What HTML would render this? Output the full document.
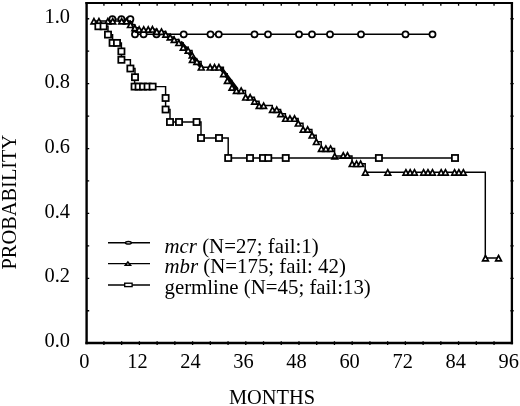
<!DOCTYPE html>
<html><head><meta charset="utf-8"><title>Kaplan-Meier</title>
<style>html,body{margin:0;padding:0;background:#fff}svg{display:block}text{font-family:"Liberation Serif",serif;fill:#000}</style></head><body>
<svg width="520" height="406" viewBox="0 0 520 406">
<rect width="520" height="406" fill="#fff"/>
<g stroke="#000" fill="none">
<path d="M86.6 2.1V344.2" stroke-width="2.4"/>
<path d="M511.9 2.1V344.2" stroke-width="2.3"/>
<path d="M85.4 3.1H513.05" stroke-width="2.0"/>
<path d="M85.4 343.0H513.05" stroke-width="2.4"/>
</g>
<path d="M103.93 341.20V345.00M103.93 3.10V5.70M121.66 341.20V345.00M121.66 3.10V5.70M139.40 341.20V345.00M139.40 3.10V5.70M157.13 341.20V345.00M157.13 3.10V5.70M174.86 341.20V345.00M174.86 3.10V5.70M192.59 341.20V345.00M192.59 3.10V5.70M210.32 341.20V345.00M210.32 3.10V5.70M228.06 341.20V345.00M228.06 3.10V5.70M245.79 341.20V345.00M245.79 3.10V5.70M263.52 341.20V345.00M263.52 3.10V5.70M281.25 341.20V345.00M281.25 3.10V5.70M298.98 341.20V345.00M298.98 3.10V5.70M316.72 341.20V345.00M316.72 3.10V5.70M334.45 341.20V345.00M334.45 3.10V5.70M352.18 341.20V345.00M352.18 3.10V5.70M369.91 341.20V345.00M369.91 3.10V5.70M387.64 341.20V345.00M387.64 3.10V5.70M405.38 341.20V345.00M405.38 3.10V5.70M423.11 341.20V345.00M423.11 3.10V5.70M440.84 341.20V345.00M440.84 3.10V5.70M458.57 341.20V345.00M458.57 3.10V5.70M476.30 341.20V345.00M476.30 3.10V5.70M494.04 341.20V345.00M494.04 3.10V5.70M86.60 310.75H89.20M510.40 310.75H513.70M86.60 278.31H89.20M510.40 278.31H513.70M86.60 245.87H89.20M510.40 245.87H513.70M86.60 213.42H89.20M510.40 213.42H513.70M86.60 180.97H89.20M510.40 180.97H513.70M86.60 148.53H89.20M510.40 148.53H513.70M86.60 116.09H89.20M510.40 116.09H513.70M86.60 83.64H89.20M510.40 83.64H513.70M86.60 51.19H89.20M510.40 51.19H513.70M86.60 18.75H89.20M510.40 18.75H513.70" stroke="#000" stroke-width="1.3" fill="none"/>
<path d="M112.40 19.10 H121.40 H130.40 H132.60 H132.60 V34.30 H135.00 H143.60 H156.50 H183.70 H210.50 H218.75 H254.50 H268.00 H299.00 H312.00 H330.00 H361.00 H405.50 H432.50" fill="none" stroke="#000" stroke-width="1.45" stroke-linejoin="miter"/>
<g fill="#fff" stroke="#000" stroke-width="1.75"><circle cx="112.40" cy="19.10" r="3.05"/><circle cx="121.40" cy="19.10" r="3.05"/><circle cx="130.40" cy="19.10" r="3.05"/><circle cx="135.00" cy="34.30" r="3.05"/><circle cx="143.60" cy="34.30" r="3.05"/><circle cx="156.50" cy="34.30" r="3.05"/><circle cx="183.70" cy="34.30" r="3.05"/><circle cx="210.50" cy="34.30" r="3.05"/><circle cx="218.75" cy="34.30" r="3.05"/><circle cx="254.50" cy="34.30" r="3.05"/><circle cx="268.00" cy="34.30" r="3.05"/><circle cx="299.00" cy="34.30" r="3.05"/><circle cx="312.00" cy="34.30" r="3.05"/><circle cx="330.00" cy="34.30" r="3.05"/><circle cx="361.00" cy="34.30" r="3.05"/><circle cx="405.50" cy="34.30" r="3.05"/><circle cx="432.50" cy="34.30" r="3.05"/></g>
<path d="M93.80 21.05 H98.80 H107.70 H112.60 H121.50 H126.30 H130.30 V24.65 H134.70 V27.75 H139.00 V29.35 H143.60 H148.10 H152.30 V29.15 H156.60 V31.45 H161.30 H165.60 V34.30 H170.00 V37.05 H174.00 V39.55 H178.70 V42.65 H183.10 V47.25 H188.00 V50.35 H192.00 V55.15 H192.20 V59.55 H196.70 V61.55 H201.10 V67.15 H210.00 H214.40 H218.75 H223.40 V73.75 H227.20 V80.55 H231.80 V87.35 H236.25 V90.45 H241.00 H245.50 V97.15 H250.00 H254.40 V101.25 H259.00 V105.55 H263.50 H272.30 V109.55 H276.60 H280.60 V113.75 H285.40 V118.40 H289.80 H294.40 H298.10 V123.15 H303.00 V129.35 H307.50 H311.90 V135.15 H316.20 V141.65 H321.20 V148.45 H325.70 H330.40 H334.60 V156.05 H343.10 H347.30 H352.00 V163.65 H356.40 H360.50 H365.20 V172.20 H387.60 H405.75 H410.00 H414.30 H423.40 H427.80 H432.30 H441.00 H445.30 H454.40 H458.70 H463.20 H485.30 V258.00 H498.40" fill="none" stroke="#000" stroke-width="1.45" stroke-linejoin="miter"/>
<path d="M180.3 42.1L202 67.8M221.2 68.6L237 89.8" fill="none" stroke="#000" stroke-width="4"/>
<g fill="#fff" stroke="#000" stroke-width="1.75"><path d="M93.95 18.55l2.85 5.35h-5.7z" stroke-width="1.7"/><path d="M98.95 18.55l2.85 5.35h-5.7z" stroke-width="1.7"/><path d="M107.85 18.55l2.85 5.35h-5.7z" stroke-width="1.7"/><path d="M112.75 18.55l2.85 5.35h-5.7z" stroke-width="1.7"/><path d="M121.65 18.55l2.85 5.35h-5.7z" stroke-width="1.7"/><path d="M126.45 18.55l2.85 5.35h-5.7z" stroke-width="1.7"/><path d="M130.45 22.15l2.85 5.35h-5.7z" stroke-width="1.7"/><path d="M134.85 25.25l2.85 5.35h-5.7z" stroke-width="1.7"/><path d="M139.15 26.85l2.85 5.35h-5.7z" stroke-width="1.7"/><path d="M143.75 26.85l2.85 5.35h-5.7z" stroke-width="1.7"/><path d="M148.25 26.85l2.85 5.35h-5.7z" stroke-width="1.7"/><path d="M152.45 26.65l2.85 5.35h-5.7z" stroke-width="1.7"/><path d="M156.75 28.95l2.85 5.35h-5.7z" stroke-width="1.7"/><path d="M161.45 28.95l2.85 5.35h-5.7z" stroke-width="1.7"/><path d="M165.75 31.80l2.85 5.35h-5.7z" stroke-width="1.7"/><path d="M170.15 34.55l2.85 5.35h-5.7z" stroke-width="1.7"/><path d="M174.15 37.05l2.85 5.35h-5.7z" stroke-width="1.7"/><path d="M178.85 40.15l2.85 5.35h-5.7z" stroke-width="1.7"/><path d="M183.25 44.75l2.85 5.35h-5.7z" stroke-width="1.7"/><path d="M188.15 47.85l2.85 5.35h-5.7z" stroke-width="1.7"/><path d="M192.15 52.65l2.85 5.35h-5.7z" stroke-width="1.7"/><path d="M192.35 57.05l2.85 5.35h-5.7z" stroke-width="1.7"/><path d="M196.85 59.05l2.85 5.35h-5.7z" stroke-width="1.7"/><path d="M201.25 64.65l2.85 5.35h-5.7z" stroke-width="1.7"/><path d="M210.15 64.65l2.85 5.35h-5.7z" stroke-width="1.7"/><path d="M214.55 64.65l2.85 5.35h-5.7z" stroke-width="1.7"/><path d="M218.90 64.65l2.85 5.35h-5.7z" stroke-width="1.7"/><path d="M223.55 71.25l2.85 5.35h-5.7z" stroke-width="1.7"/><path d="M227.35 78.05l2.85 5.35h-5.7z" stroke-width="1.7"/><path d="M231.95 84.85l2.85 5.35h-5.7z" stroke-width="1.7"/><path d="M236.40 87.95l2.85 5.35h-5.7z" stroke-width="1.7"/><path d="M241.15 87.95l2.85 5.35h-5.7z" stroke-width="1.7"/><path d="M245.65 94.65l2.85 5.35h-5.7z" stroke-width="1.7"/><path d="M250.15 94.65l2.85 5.35h-5.7z" stroke-width="1.7"/><path d="M254.55 98.75l2.85 5.35h-5.7z" stroke-width="1.7"/><path d="M259.15 103.05l2.85 5.35h-5.7z" stroke-width="1.7"/><path d="M263.65 103.05l2.85 5.35h-5.7z" stroke-width="1.7"/><path d="M272.45 107.05l2.85 5.35h-5.7z" stroke-width="1.7"/><path d="M276.75 107.05l2.85 5.35h-5.7z" stroke-width="1.7"/><path d="M280.75 111.25l2.85 5.35h-5.7z" stroke-width="1.7"/><path d="M285.55 115.90l2.85 5.35h-5.7z" stroke-width="1.7"/><path d="M289.95 115.90l2.85 5.35h-5.7z" stroke-width="1.7"/><path d="M294.55 115.90l2.85 5.35h-5.7z" stroke-width="1.7"/><path d="M298.25 120.65l2.85 5.35h-5.7z" stroke-width="1.7"/><path d="M303.15 126.85l2.85 5.35h-5.7z" stroke-width="1.7"/><path d="M307.65 126.85l2.85 5.35h-5.7z" stroke-width="1.7"/><path d="M312.05 132.65l2.85 5.35h-5.7z" stroke-width="1.7"/><path d="M316.35 139.15l2.85 5.35h-5.7z" stroke-width="1.7"/><path d="M321.35 145.95l2.85 5.35h-5.7z" stroke-width="1.7"/><path d="M325.85 145.95l2.85 5.35h-5.7z" stroke-width="1.7"/><path d="M330.55 145.95l2.85 5.35h-5.7z" stroke-width="1.7"/><path d="M334.75 153.55l2.85 5.35h-5.7z" stroke-width="1.7"/><path d="M343.25 152.75l2.85 5.35h-5.7z" stroke-width="1.7"/><path d="M347.45 152.75l2.85 5.35h-5.7z" stroke-width="1.7"/><path d="M352.15 161.15l2.85 5.35h-5.7z" stroke-width="1.7"/><path d="M356.55 161.15l2.85 5.35h-5.7z" stroke-width="1.7"/><path d="M360.65 161.15l2.85 5.35h-5.7z" stroke-width="1.7"/><path d="M365.35 169.70l2.85 5.35h-5.7z" stroke-width="1.7"/><path d="M387.75 169.70l2.85 5.35h-5.7z" stroke-width="1.7"/><path d="M405.90 169.70l2.85 5.35h-5.7z" stroke-width="1.7"/><path d="M410.15 169.70l2.85 5.35h-5.7z" stroke-width="1.7"/><path d="M414.45 169.70l2.85 5.35h-5.7z" stroke-width="1.7"/><path d="M423.55 169.70l2.85 5.35h-5.7z" stroke-width="1.7"/><path d="M427.95 169.70l2.85 5.35h-5.7z" stroke-width="1.7"/><path d="M432.45 169.70l2.85 5.35h-5.7z" stroke-width="1.7"/><path d="M441.15 169.70l2.85 5.35h-5.7z" stroke-width="1.7"/><path d="M445.45 169.70l2.85 5.35h-5.7z" stroke-width="1.7"/><path d="M454.55 169.70l2.85 5.35h-5.7z" stroke-width="1.7"/><path d="M458.85 169.70l2.85 5.35h-5.7z" stroke-width="1.7"/><path d="M463.35 169.70l2.85 5.35h-5.7z" stroke-width="1.7"/><path d="M485.45 255.50l2.85 5.35h-5.7z" stroke-width="1.7"/><path d="M498.55 255.50l2.85 5.35h-5.7z" stroke-width="1.7"/></g>
<path d="M98.40 26.30 H103.60 H108.00 V34.60 H112.60 V42.90 H117.00 H121.40 V51.40 H121.40 V59.80 H130.40 V68.50 H135.00 V77.20 H134.60 V86.60 H138.60 H143.00 H147.60 H152.60 H165.60 V98.00 H165.60 V109.50 H170.00 V122.00 H179.00 H196.60 H201.00 V138.00 H219.00 H228.20 V158.00 H250.00 H263.00 H268.25 H285.75 H378.90 H455.00" fill="none" stroke="#000" stroke-width="1.45" stroke-linejoin="miter"/>
<g fill="#fff" stroke="#000" stroke-width="1.75"><rect x="95.30" y="23.25" width="6.2" height="6.1"/><rect x="100.50" y="23.25" width="6.2" height="6.1"/><rect x="104.90" y="31.55" width="6.2" height="6.1"/><rect x="109.50" y="39.85" width="6.2" height="6.1"/><rect x="113.90" y="39.85" width="6.2" height="6.1"/><rect x="118.30" y="48.35" width="6.2" height="6.1"/><rect x="118.30" y="56.75" width="6.2" height="6.1"/><rect x="127.30" y="65.45" width="6.2" height="6.1"/><rect x="131.90" y="74.15" width="6.2" height="6.1"/><rect x="131.50" y="83.55" width="6.2" height="6.1"/><rect x="135.50" y="83.55" width="6.2" height="6.1"/><rect x="139.90" y="83.55" width="6.2" height="6.1"/><rect x="144.50" y="83.55" width="6.2" height="6.1"/><rect x="149.50" y="83.55" width="6.2" height="6.1"/><rect x="162.50" y="94.95" width="6.2" height="6.1"/><rect x="162.50" y="106.45" width="6.2" height="6.1"/><rect x="166.90" y="118.95" width="6.2" height="6.1"/><rect x="175.90" y="118.95" width="6.2" height="6.1"/><rect x="193.50" y="118.95" width="6.2" height="6.1"/><rect x="197.90" y="134.95" width="6.2" height="6.1"/><rect x="215.90" y="134.95" width="6.2" height="6.1"/><rect x="225.10" y="154.95" width="6.2" height="6.1"/><rect x="246.90" y="154.95" width="6.2" height="6.1"/><rect x="259.90" y="154.95" width="6.2" height="6.1"/><rect x="265.15" y="154.95" width="6.2" height="6.1"/><rect x="282.65" y="154.95" width="6.2" height="6.1"/><rect x="375.80" y="154.95" width="6.2" height="6.1"/><rect x="451.90" y="154.95" width="6.2" height="6.1"/></g>
<path d="M108 242.80H150" stroke="#000" stroke-width="1.45"/>
<path d="M108 263.60H150" stroke="#000" stroke-width="1.45"/>
<path d="M108 284.90H150" stroke="#000" stroke-width="1.45"/>
<g fill="#fff" stroke="#000" stroke-width="1.35">
<ellipse cx="128.4" cy="242.8" rx="2.9" ry="1.3" stroke-width="1.5"/>
<path d="M127.9 262.0l2.6 3.35h-5.2z" stroke-width="1.5"/>
<rect x="124.7" y="283.2" width="7.4" height="3.4"/>
</g>
<g font-size="20.4">
<text font-size="20.85" x="164.5" y="252.6"><tspan font-style="italic">mcr</tspan> (N=27; fail:1)</text>
<text font-size="20.85" x="164.5" y="272.9"><tspan font-style="italic">mbr</tspan> (N=175; fail: 42)</text>
<text font-size="20.85" x="164.5" y="293.6">germline (N=45; fail:13)</text>
<text x="57.2" y="347.30" text-anchor="middle">0.0</text>
<text x="57.2" y="282.41" text-anchor="middle">0.2</text>
<text x="57.2" y="217.52" text-anchor="middle">0.4</text>
<text x="57.2" y="152.63" text-anchor="middle">0.6</text>
<text x="57.2" y="87.74" text-anchor="middle">0.8</text>
<text x="57.2" y="22.85" text-anchor="middle">1.0</text>
<text x="84.40" y="367.6" text-anchor="middle">0</text>
<text x="137.44" y="367.6" text-anchor="middle">12</text>
<text x="190.48" y="367.6" text-anchor="middle">24</text>
<text x="243.52" y="367.6" text-anchor="middle">36</text>
<text x="296.56" y="367.6" text-anchor="middle">48</text>
<text x="349.60" y="367.6" text-anchor="middle">60</text>
<text x="402.64" y="367.6" text-anchor="middle">72</text>
<text x="455.68" y="367.6" text-anchor="middle">84</text>
<text x="508.72" y="367.6" text-anchor="middle">96</text>
<text x="272" y="404" text-anchor="middle">MONTHS</text>
<text transform="translate(15.6 202.1) rotate(-90)" text-anchor="middle">PROBABILITY</text>
</g>
</svg></body></html>
